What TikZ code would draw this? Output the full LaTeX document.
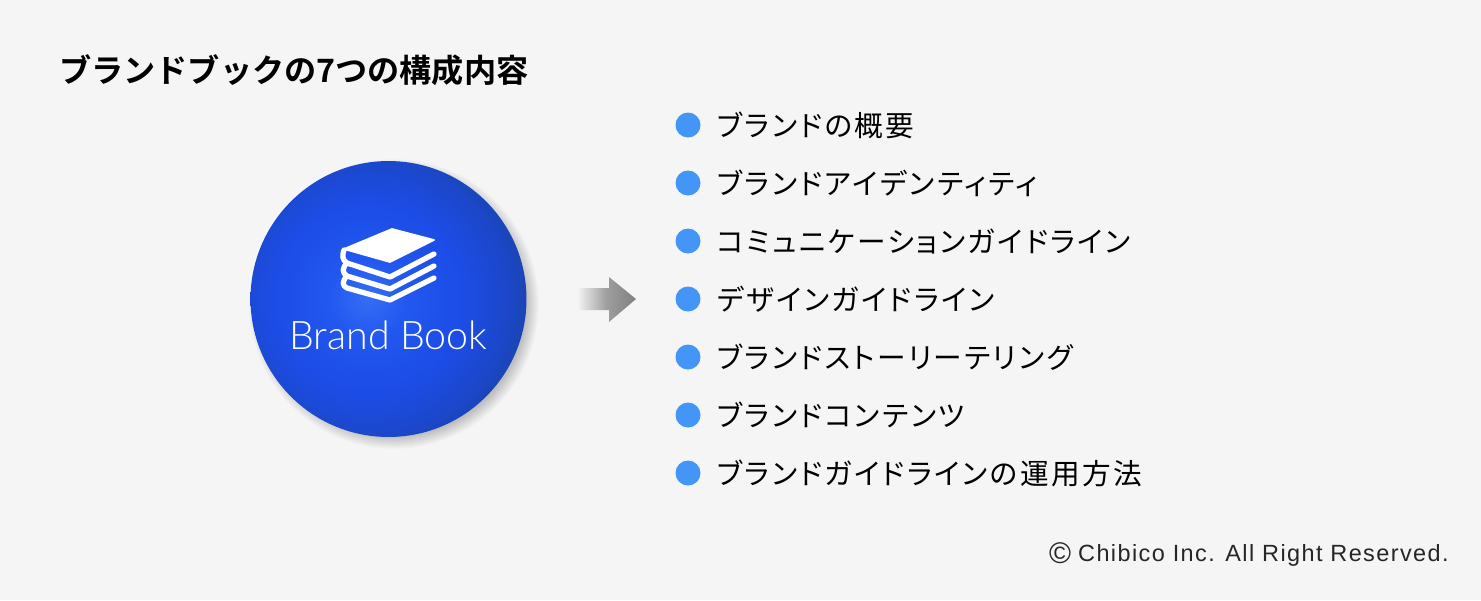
\documentclass[tikz,border=0pt]{standalone}
\usepackage{fontspec}
\usetikzlibrary{positioning,calc}
\newfontfamily\jpfont[RawFeature=+palt, LetterSpace=8.4]{Noto Sans CJK JP}
\newfontfamily\jpboldfont{Noto Sans CJK JP Bold}
\newfontfamily\latinfont[LetterSpace=6]{Liberation Sans}
\newfontfamily\brandfont{Lato Light}
\definecolor{pagebg}{HTML}{F5F5F5}
\definecolor{bulletblue}{HTML}{4396F7}
\definecolor{balla}{rgb}{0.21,0.43,0.96}
\definecolor{ballb}{rgb}{0.13,0.34,0.94}
\definecolor{ballc}{rgb}{0.11,0.30,0.90}
\definecolor{balld}{rgb}{0.11,0.28,0.80}
\definecolor{balle}{rgb}{0.10,0.26,0.66}
\pgfdeclareradialshading{ballshade}{\pgfpoint{0cm}{0cm}}{
	color(0bp)=(balla);
	color(6bp)=(ballb);
	color(14bp)=(ballc);
	color(20bp)=(balld);
	color(25bp)=(balle);
	color(50bp)=(balle)}
\tikzset{
	itembullet/.style={circle, fill=bulletblue, minimum size=0.5cm, inner sep=0pt},
	itemtext/.style={anchor=west, inner sep=0pt, font=\jpfont\fontsize{16.3}{18}\selectfont, text=black},
	bookline/.style={draw=white, line width=3pt, line cap=round, line join=round}
}

\begin{document}
\begin{tikzpicture}[x=0.02cm, y=-0.02cm]
	\useasboundingbox (0, 0) rectangle (1481, 600);
	\fill[pagebg] (0, 0) rectangle (1481, 600);

	\node[anchor=west, inner sep=0pt, font=\jpboldfont\fontsize{18.3}{20}\selectfont, text=black] (title) at (59, 70) {ブランドブックの7つの構成内容};

	% soft shadow of the ball
	\foreach \r in {1,...,14}
		\fill[black, opacity=0.014] (394, 304) circle (2.76cm + 4.5pt - 0.55pt * \r);
	\node[circle, minimum size=5.52cm, inner sep=0pt, path picture={
		\shade[shading=ballshade] ($(path picture bounding box.center)+(-20.5, -1)$) circle (3.4cm);
	}] (ball) at (388.5, 299) {};

	% book icon
	\fill[white, line join=round, draw=white, line width=1pt] (392, 229) -- (434, 240) -- (390, 262) -- (344, 249) -- cycle;
	\draw[bookline] (344, 250) .. controls (342, 255) and (342, 260) .. (347, 263) -- (390, 277) -- (434, 254);
	\draw[bookline] (347, 263) .. controls (342, 268) and (342, 273) .. (347, 276) -- (390, 289) -- (434, 266);
	\draw[bookline] (347, 276) .. controls (342, 281) and (342, 286) .. (347, 288) -- (390, 300) -- (434, 278);
	\node[inner sep=0pt, font=\brandfont\fontsize{22.4}{24}\selectfont, text=white] (brand) at (388.5, 335) {Brand Book};

	% arrow
	\shade[left color=pagebg, right color=black!50, shading angle=90, middle color=black!38] (577, 288) -- (609, 288) -- (609, 277) -- (636, 299) -- (609, 322) -- (609, 310) -- (577, 310) -- cycle;

	% list
	\node[itembullet] (b1) at (688, 125) {};
	\node[itembullet] (b2) at (688, 183) {};
	\node[itembullet] (b3) at (688, 241) {};
	\node[itembullet] (b4) at (688, 299) {};
	\node[itembullet] (b5) at (688, 357) {};
	\node[itembullet] (b6) at (688, 415) {};
	\node[itembullet] (b7) at (688, 473) {};

	\node[itemtext] (t1) at (717, 125) {ブランドの概要};
	\node[itemtext] (t2) at (717, 183) {ブランドアイデンティティ};
	\node[itemtext] (t3) at (717, 241) {コミュニケーションガイドライン};
	\node[itemtext] (t4) at (717, 299) {デザインガイドライン};
	\node[itemtext] (t5) at (717, 357) {ブランドストーリーテリング};
	\node[itemtext] (t6) at (717, 415) {ブランドコンテンツ};
	\node[itemtext] (t7) at (717, 473) {ブランドガイドラインの運用方法};

	\node[anchor=east, inner sep=0pt, font=\latinfont\fontsize{13.35}{15}\selectfont, text=black!85] (copyright) at (1449, 554.5) {\raisebox{-1pt}{\fontsize{17}{15}\selectfont\copyright}\hspace{4pt}Chibico Inc. All Right Reserved.};
\end{tikzpicture}
\end{document}
